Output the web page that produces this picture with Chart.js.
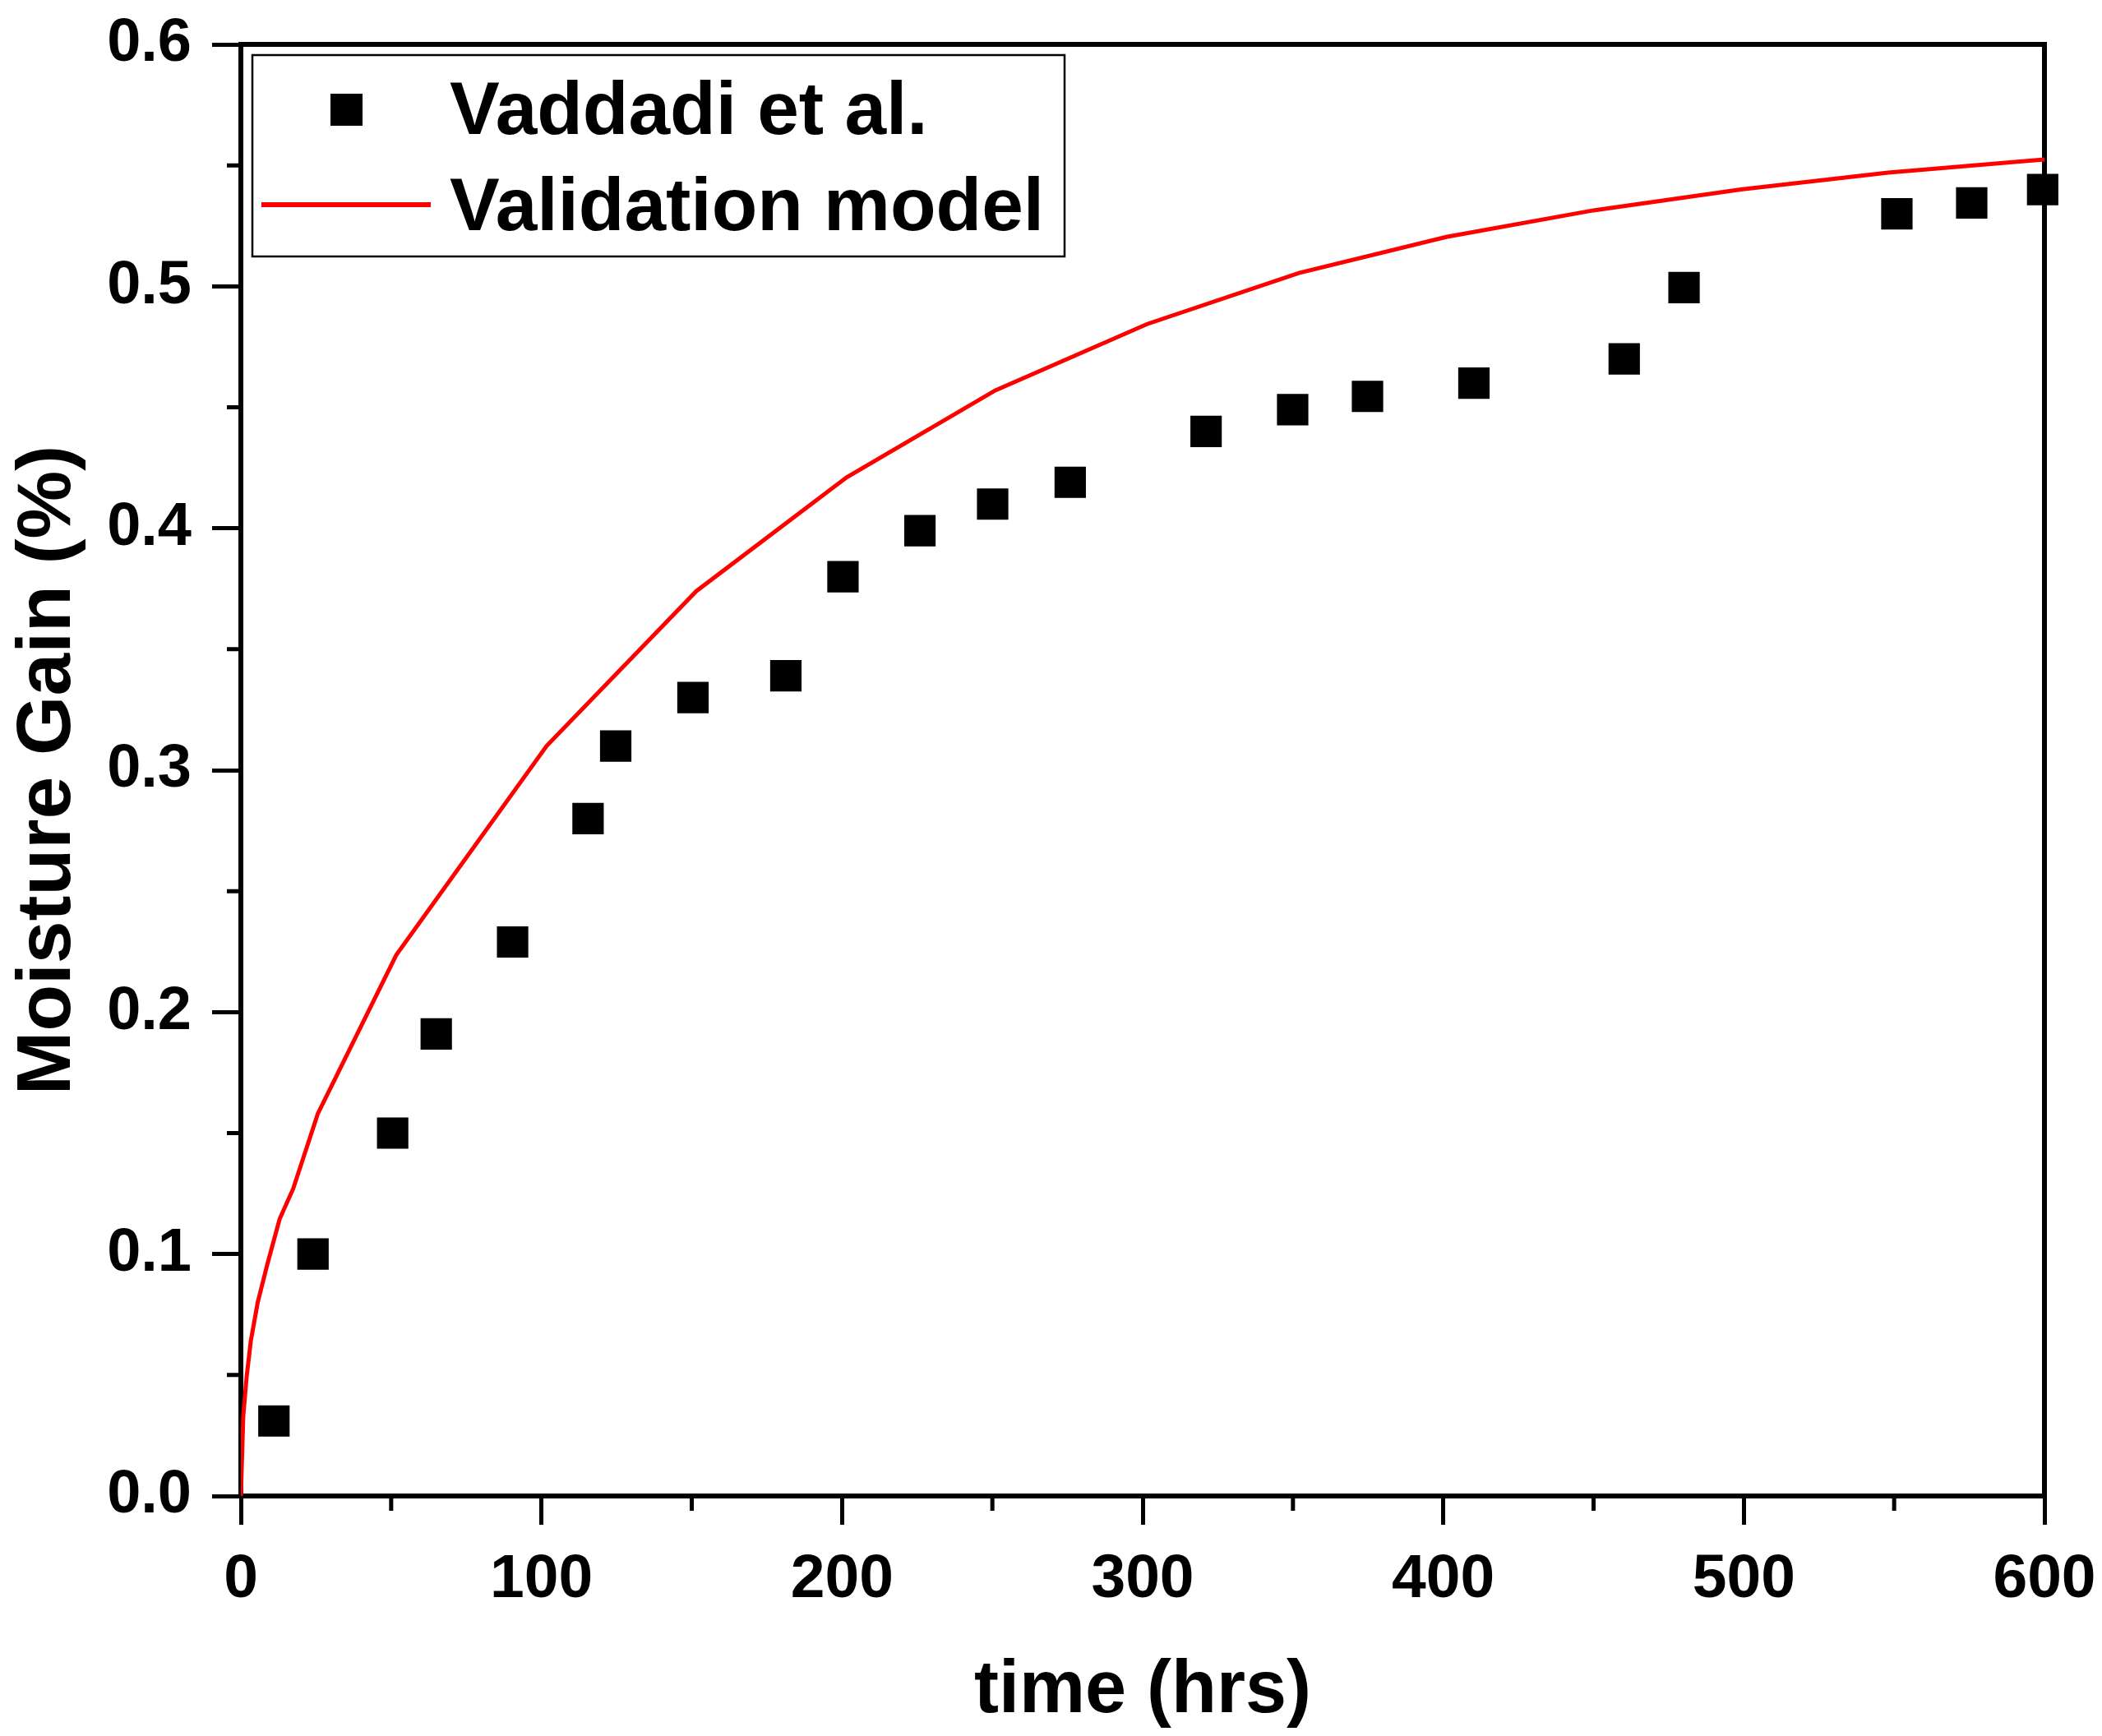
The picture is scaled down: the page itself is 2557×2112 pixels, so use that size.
<!DOCTYPE html>
<html>
<head>
<meta charset="utf-8">
<script src="https://cdn.jsdelivr.net/npm/chart.js@4/dist/chart.umd.min.js"></script>
<style>
  html, body { margin: 0; padding: 0; background: #fff; }
  #wrap { width: 2557px; height: 2112px; }
</style>
</head>
<body>
<div id="wrap"><canvas id="MoistureChart" width="2557" height="2112"></canvas></div>
<script>
// Data

const vaddadiHours = [11, 24, 50.5, 65, 90.4, 115.5, 124.7, 150.4, 181.3, 200.3, 225.9, 250.1, 275.9, 321.1, 349.9, 374.8, 410.2, 460.2, 480.1, 550.9, 575.8, 599.4];
const vaddadiGain = [0.031, 0.1, 0.15, 0.191, 0.229, 0.28, 0.31, 0.33, 0.339, 0.38, 0.399, 0.41, 0.419, 0.44, 0.449, 0.4545, 0.46, 0.47, 0.4995, 0.53, 0.5345, 0.54];

const modelHours = [0, 0.8, 1.9, 3.3, 5.6, 8.75, 12.9, 17.4, 25.6, 51.7, 101.7, 151.5, 201.5, 251, 301.5, 352, 401, 450, 499, 548, 600];
const modelGain = [0, 0.033, 0.049, 0.064, 0.080, 0.0955, 0.1145, 0.127, 0.158, 0.2236, 0.310, 0.374, 0.421, 0.457, 0.4844, 0.5055, 0.5204, 0.5314, 0.540, 0.547, 0.5524];

const seriesLabels = ['Vaddadi et al.', 'Validation model'];
const xTicks = [0, 100, 200, 300, 400, 500, 600];
const yTicks = [0.0, 0.1, 0.2, 0.3, 0.4, 0.5, 0.6];

const FONT = "'Liberation Sans', Arial, Helvetica, sans-serif";

function toPoints(xs, ys) {
    return xs.map(function (x, i) { return {x: x, y: ys[i]}; });
}

// frame on top / right, minor ticks between the major ones
const framePlugin = {
    id: 'frame',
    beforeDatasetsDraw(chart) {
        const ctx = chart.ctx, a = chart.chartArea;
        ctx.save();
        ctx.strokeStyle = '#000';
        ctx.lineWidth = 6;
        ctx.beginPath();
        ctx.moveTo(a.left - 3, a.top);
        ctx.lineTo(a.right, a.top);
        ctx.lineTo(a.right, a.bottom + 3);
        ctx.stroke();

        const xs = chart.scales.x, ys = chart.scales.y;
        ctx.lineWidth = 5;
        ctx.beginPath();
        for (var i = 0; i < xTicks.length - 1; i++) {
            var px = xs.getPixelForValue((xTicks[i] + xTicks[i + 1]) / 2);
            ctx.moveTo(px, a.bottom);
            ctx.lineTo(px, a.bottom + 18);
        }
        for (var j = 0; j < yTicks.length - 1; j++) {
            var py = ys.getPixelForValue((yTicks[j] + yTicks[j + 1]) / 2);
            ctx.moveTo(a.left, py);
            ctx.lineTo(a.left - 17, py);
        }
        ctx.stroke();
        ctx.restore();
    }
};

// boxed legend in the top-left corner of the plot
const boxLegend = {
    id: 'boxLegend',
    afterDatasetsDraw(chart) {
        const ctx = chart.ctx, a = chart.chartArea;
        const ds = chart.data.datasets;
        const left = a.left + 14, top = a.top + 13;
        ctx.save();
        ctx.fillStyle = '#fff';
        ctx.fillRect(left, top, 988, 245);
        ctx.strokeStyle = '#000';
        ctx.lineWidth = 2.5;
        ctx.strokeRect(left, top, 988, 245);

        // marker row
        ctx.fillStyle = ds[0].backgroundColor;
        ctx.fillRect(left + 95, top + 47, 39, 39);
        // line row
        ctx.strokeStyle = ds[1].borderColor;
        ctx.lineWidth = 6;
        ctx.beginPath();
        ctx.moveTo(left + 11, top + 182);
        ctx.lineTo(left + 217, top + 182);
        ctx.stroke();

        ctx.fillStyle = '#000';
        ctx.font = 'bold 91px ' + FONT;
        ctx.textBaseline = 'alphabetic';
        ctx.textAlign = 'left';
        ctx.fillText(ds[0].label, left + 240, top + 96);
        ctx.fillText(ds[1].label, left + 240, top + 213);
        ctx.restore();
    }
};

const data = {
    datasets: [
        {
            label: seriesLabels[0],
            type: 'scatter',
            data: toPoints(vaddadiHours, vaddadiGain),
            pointStyle: 'rect',
            pointRadius: 27,
            pointBorderWidth: 0,
            backgroundColor: '#000',
            borderColor: '#000',
            clip: false,
            order: 0
        },
        {
            label: seriesLabels[1],
            type: 'line',
            data: toPoints(modelHours, modelGain),
            borderColor: '#ff0000',
            backgroundColor: '#ff0000',
            borderWidth: 5,
            pointRadius: 0,
            tension: 0,
            fill: false,
            order: 1
        }
    ]
};

const config = {
    type: 'scatter',
    data: data,
    options: {
        responsive: false,
        animation: false,
        devicePixelRatio: 1,
        layout: {padding: {top: 54, right: 70, bottom: 0, left: 0}},
        plugins: {legend: {display: false}, tooltip: {enabled: false}},
        scales: {
            x: {
                type: 'linear',
                min: 0,
                max: 600,
                afterFit: function (scale) {
                    scale.height = 292;
                    scale.paddingLeft = 0;
                    scale.paddingRight = 0;
                },
                afterBuildTicks: function (scale) {
                    scale.ticks = xTicks.map(function (v) { return {value: v}; });
                },
                border: {display: true, color: '#000', width: 6},
                grid: {drawOnChartArea: false, drawTicks: true, tickLength: 35, tickWidth: 5, tickColor: '#000', color: '#000'},
                ticks: {
                    color: '#000',
                    padding: 22,
                    maxRotation: 0,
                    font: {family: FONT, size: 75, weight: 'bold'},
                    callback: function (v) { return String(v); }
                },
                title: {
                    display: true,
                    text: 'time (hrs)',
                    color: '#000',
                    font: {family: FONT, size: 90, weight: 'bold', lineHeight: 1.2},
                    padding: {top: 0, bottom: 0}
                }
            },
            y: {
                type: 'linear',
                min: 0,
                max: 0.6,
                afterFit: function (scale) {
                    scale.width = 293;
                    scale.paddingTop = 0;
                    scale.paddingBottom = 0;
                },
                afterBuildTicks: function (scale) {
                    scale.ticks = yTicks.map(function (v) { return {value: v}; });
                },
                border: {display: true, color: '#000', width: 6},
                grid: {drawOnChartArea: false, drawTicks: true, tickLength: 35, tickWidth: 5, tickColor: '#000', color: '#000'},
                ticks: {
                    color: '#000',
                    padding: 25,
                    font: {family: FONT, size: 74, weight: 'bold'},
                    callback: function (v) { return Number(v).toFixed(1); }
                },
                title: {
                    display: true,
                    text: 'Moisture Gain (%)',
                    color: '#000',
                    font: {family: FONT, size: 93, weight: 'bold', lineHeight: 1.2},
                    padding: {top: 4, bottom: 0}
                }
            }
        }
    },
    plugins: [framePlugin, boxLegend]
};

const myChart = new Chart(document.getElementById('MoistureChart'), config);
</script>
</body>
</html>
